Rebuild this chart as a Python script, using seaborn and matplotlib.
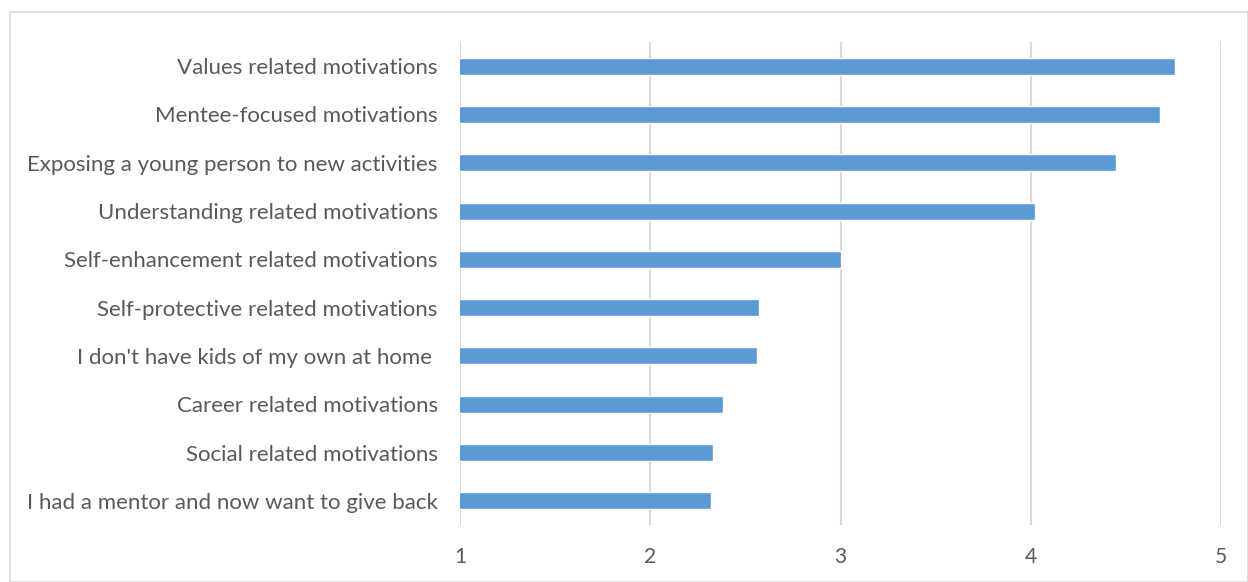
import matplotlib
matplotlib.use("Agg")
import matplotlib.pyplot as plt
import seaborn as sns
import pandas as pd
from matplotlib.patches import Rectangle

categories = [
    "Values related motivations",
    "Mentee-focused motivations",
    "Exposing a young person to new activities",
    "Understanding related motivations",
    "Self-enhancement related motivations",
    "Self-protective related motivations",
    "I don't have kids of my own at home ",
    "Career related motivations",
    "Social related motivations",
    "I had a mentor and now want to give back",
]
scores = [4.76, 4.68, 4.45, 4.02, 3.00, 2.57, 2.56, 2.38, 2.33, 2.32]
x_ticks = [1, 2, 3, 4, 5]

df = pd.DataFrame({"category": categories, "score": scores})

sns.set_theme(style="white")
plt.rcParams["font.family"] = ["Lato", "DejaVu Sans"]

text_color = "#595959"
grid_color = "#d9d9d9"
bar_color = "#5b9bd5"

W, H = 1248, 582
fig = plt.figure(figsize=(W / 100, H / 100), dpi=100)
ax = fig.add_axes([460 / W, 1 - 525 / H, 761 / W, 483 / H])

sns.barplot(data=df, x="score", y="category", orient="h", color=bar_color,
            saturation=1, width=0.35, ax=ax, zorder=3)

ax.set_xlim(1, 5)
ax.set_xticks(x_ticks)
ax.set_xticklabels([str(t) for t in x_ticks])
ax.set_ylim(len(categories) - 0.5, -0.5)
ax.set_xlabel("")
ax.set_ylabel("")

ax.grid(axis="x", color=grid_color, linewidth=1.5, zorder=0)
ax.grid(axis="y", visible=False)
for side in ["top", "right", "bottom", "left"]:
    ax.spines[side].set_visible(False)

ax.tick_params(axis="x", length=0, pad=16, labelsize=15, labelcolor=text_color)
ax.tick_params(axis="y", length=0, pad=16, labelsize=16, labelcolor=text_color)

# outer chart border
fig.patches.append(Rectangle((10 / W, 0), 1 - 10 / W, 1 - 12 / H,
                             transform=fig.transFigure, fill=False,
                             edgecolor="#d9d9d9", linewidth=1.2))

fig.savefig("out.png", dpi=100)
